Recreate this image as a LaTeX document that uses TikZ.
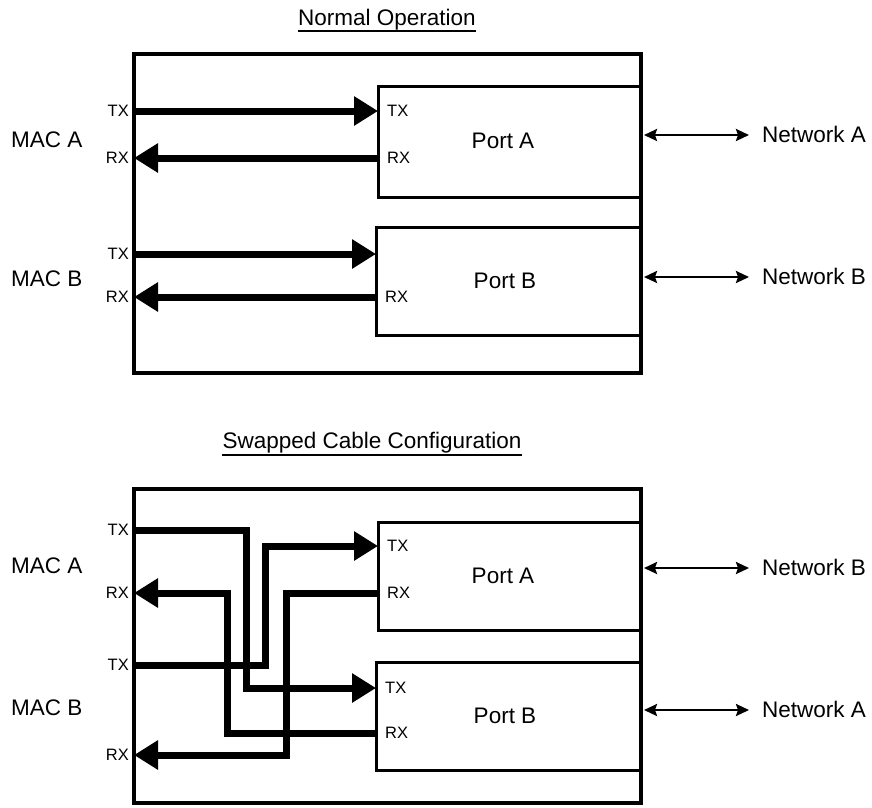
\documentclass[tikz,border=0pt]{standalone}
\usepackage{fontspec}
\setmainfont{Liberation Sans}
\usetikzlibrary{arrows.meta}
\begin{document}
\begin{tikzpicture}[x=1pt,y=-1pt,
  outerbox/.style={draw,line width=4pt,anchor=north west,inner sep=0pt,outer sep=0pt},
  portbox/.style={draw,line width=3pt,anchor=north west,inner sep=0pt,outer sep=0pt},
  bus/.style={line width=7pt,-{Triangle[length=24pt,width=28pt]}},
  netlink/.style={line width=2.4pt,{Stealth[length=13pt,width=12pt,inset=2pt]}-{Stealth[length=13pt,width=12pt,inset=2pt]}},
  big/.style={font=\fontsize{22.5}{26}\selectfont,inner sep=0pt},
  small/.style={font=\fontsize{16.5}{19}\selectfont,inner sep=0pt},
  ttl/.style={big,anchor=base},
  uline/.style={line width=1.6pt},
]
\useasboundingbox (0,0) rectangle (872,807);

% ---------------- Normal Operation ----------------
\node[ttl] (t1) at (387,25) {Normal Operation};
\draw[uline] ([yshift=-6pt]t1.base west) -- ([yshift=-6pt]t1.base east);

\node[outerbox,minimum width=507pt,minimum height=319pt] (frame1) at (134,54) {};
\node[portbox,minimum width=263pt,minimum height=111pt] (pA1) at (378,86) {};
\node[portbox,minimum width=265pt,minimum height=108pt] (pB1) at (376,227) {};
\node[big] (pA1lbl) at (503,141) {Port A};
\node[big] (pB1lbl) at (505,281) {Port B};

\node[big,anchor=west] (macA1) at (11,140) {MAC A};
\node[big,anchor=west] (macB1) at (11,279) {MAC B};

\coordinate (mA1tx) at (134,111);
\coordinate (mA1rx) at (134,158);
\coordinate (mB1tx) at (134,254);
\coordinate (mB1rx) at (134,297);
\coordinate (pA1tx) at (378,111);
\coordinate (pA1rx) at (378,158);
\coordinate (pB1tx) at (376,254);
\coordinate (pB1rx) at (376,297);

\node[small,anchor=east] (lA1tx) at (129,111) {TX};
\node[small,anchor=east] (lA1rx) at (129,158) {RX};
\node[small,anchor=east] (lB1tx) at (129,254) {TX};
\node[small,anchor=east] (lB1rx) at (129,297) {RX};
\node[small,anchor=west] (qA1tx) at (387,111) {TX};
\node[small,anchor=west] (qA1rx) at (387,158) {RX};
\node[small,anchor=west] (qB1rx) at (385,297) {RX};

\draw[bus] (mA1tx) -- (pA1tx);
\draw[bus] (pA1rx) -- (mA1rx);
\draw[bus] (mB1tx) -- (pB1tx);
\draw[bus] (pB1rx) -- (mB1rx);

\coordinate (nA1s) at (644,135);
\coordinate (nA1e) at (749,135);
\coordinate (nB1s) at (644,277);
\coordinate (nB1e) at (749,277);
\draw[netlink] (nA1s) -- (nA1e);
\draw[netlink] (nB1s) -- (nB1e);
\node[big,anchor=west] (netA1) at (762,134) {Network A};
\node[big,anchor=west] (netB1) at (762,276) {Network B};

% ---------------- Swapped Cable Configuration ----------------
\node[ttl] (t2) at (372,448) {Swapped Cable Configuration};
\draw[uline] ([yshift=-7pt]t2.base west) -- ([yshift=-7pt]t2.base east);

\node[outerbox,minimum width=507pt,minimum height=314pt] (frame2) at (134,489) {};
\node[portbox,minimum width=263pt,minimum height=108pt] (pA2) at (378,522) {};
\node[portbox,minimum width=265pt,minimum height=108pt] (pB2) at (376,662) {};
\node[big] (pA2lbl) at (503,576) {Port A};
\node[big] (pB2lbl) at (505,716) {Port B};

\node[big,anchor=west] (macA2) at (11,566) {MAC A};
\node[big,anchor=west] (macB2) at (11,708) {MAC B};

\coordinate (mA2tx) at (134,530);
\coordinate (mA2rx) at (134,593);
\coordinate (mB2tx) at (134,665);
\coordinate (mB2rx) at (134,755);
\coordinate (pA2tx) at (378,546);
\coordinate (pA2rx) at (378,593);
\coordinate (pB2tx) at (376,688);
\coordinate (pB2rx) at (376,733);

\node[small,anchor=east] (lA2tx) at (129,530) {TX};
\node[small,anchor=east] (lA2rx) at (129,593) {RX};
\node[small,anchor=east] (lB2tx) at (129,665) {TX};
\node[small,anchor=east] (lB2rx) at (129,755) {RX};
\node[small,anchor=west] (qA2tx) at (387,546) {TX};
\node[small,anchor=west] (qA2rx) at (387,593) {RX};
\node[small,anchor=west] (qB2tx) at (385,688) {TX};
\node[small,anchor=west] (qB2rx) at (385,733) {RX};

\draw[bus] (mA2tx) -- ++(112,0) |- (pB2tx);
\draw[bus] (mB2tx) -- ++(131,0) |- (pA2tx);
\draw[bus] (pA2rx) -- ++(-92,0) |- (mB2rx);
\draw[bus] (pB2rx) -- ++(-149,0) |- (mA2rx);

\coordinate (nB2s) at (644,568);
\coordinate (nB2e) at (749,568);
\coordinate (nA2s) at (644,710);
\coordinate (nA2e) at (749,710);
\draw[netlink] (nB2s) -- (nB2e);
\draw[netlink] (nA2s) -- (nA2e);
\node[big,anchor=west] (netB2) at (762,567) {Network B};
\node[big,anchor=west] (netA2) at (762,709) {Network A};
\end{tikzpicture}
\end{document}
